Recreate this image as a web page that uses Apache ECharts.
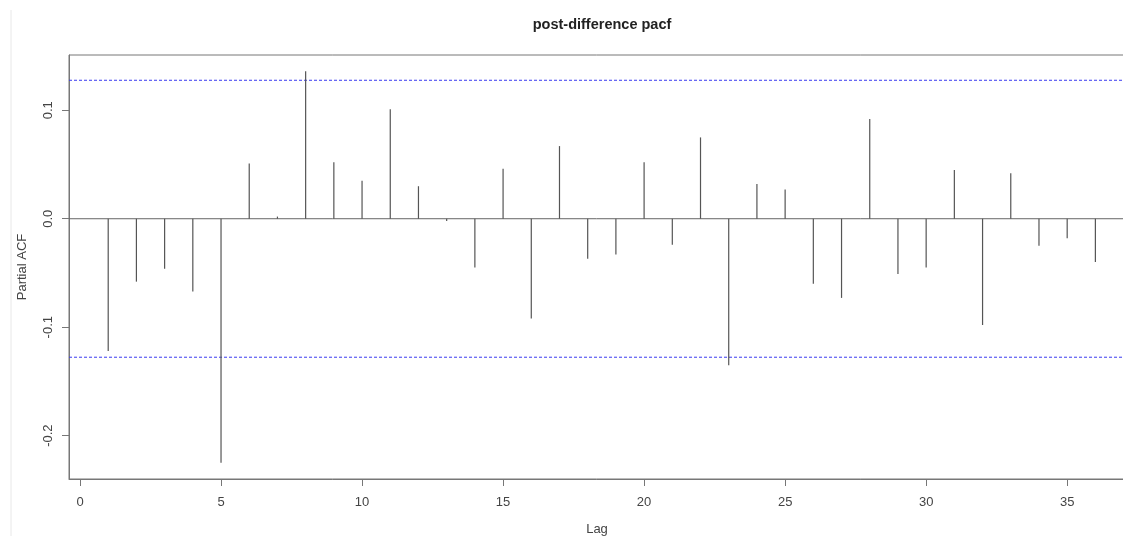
<!DOCTYPE html>
<html>
<head>
<meta charset="utf-8">
<script src="https://cdn.jsdelivr.net/npm/echarts@6/dist/echarts.min.js"></script>
<style>
    html, body { margin: 0; padding: 0; background: #fff; }
    #chart { width: 1123px; height: 536px; }
</style>
</head>
<body>
<div id="chart"></div>
<script>
    // lags 1..36 and partial autocorrelation values
    var lags = [1, 2, 3, 4, 5, 6, 7, 8, 9, 10, 11, 12, 13, 14, 15, 16, 17, 18,
                19, 20, 21, 22, 23, 24, 25, 26, 27, 28, 29, 30, 31, 32, 33, 34, 35, 36];
    var pacf = [-0.122, -0.058, -0.046, -0.067, -0.225, 0.051, 0.002, 0.136, 0.052, 0.035,
                0.101, 0.030, -0.002, -0.045, 0.046, -0.092, 0.067, -0.037, -0.033, 0.052,
                -0.024, 0.075, -0.135, 0.032, 0.027, -0.060, -0.073, 0.092, -0.051, -0.045,
                0.045, -0.098, 0.042, -0.025, -0.018, -0.040];
    var xTicks = [0, 5, 10, 15, 20, 25, 30, 35];
    var yTicks = [-0.2, -0.1, 0, 0.1];
    var ciBound = 0.1277;

    var xMin = -0.39, xMax = 37.05;

    var chart = echarts.init(document.getElementById('chart'));

    var points = [];
    for (var i = 0; i < lags.length; i++) {
        points.push([lags[i], pacf[i]]);
    }

    // horizontal line across the whole x range
    function hLine (value, color, type) {
        return {
            type: 'line',
            data: [[xMin, value], [xMax, value]],
            symbol: 'none',
            silent: true,
            lineStyle: { color: color, type: type, width: 1 },
            emphasis: { disabled: true },
            z: 1
        };
    }

    var option = {
        animation: false,
        backgroundColor: '#fff',
        textStyle: { fontFamily: 'Liberation Sans, Arial, sans-serif' },
        title: {
            text: 'post-difference pacf',
            left: 597,
            top: 12,
            textAlign: 'center',
            textStyle: { fontSize: 14.5, fontWeight: 'bold', color: '#222' }
        },
        grid: {
            left: 69,
            right: -2,
            top: 55,
            bottom: 57,
            outerBoundsMode: 'none',
            show: true,
            borderColor: '#777',
            borderWidth: 1
        },
        xAxis: {
            type: 'value',
            min: xMin,
            max: xMax,
            name: 'Lag',
            nameLocation: 'middle',
            nameGap: 44,
            nameTextStyle: { fontSize: 13, color: '#444', align: 'center' },
            axisLine: { show: true, onZero: false, lineStyle: { color: '#777' } },
            axisTick: { show: true, length: 7, customValues: xTicks, lineStyle: { color: '#777' } },
            axisLabel: { customValues: xTicks, fontSize: 13, color: '#444', margin: 17 },
            splitLine: { show: false }
        },
        yAxis: {
            type: 'value',
            min: -0.24,
            max: 0.151,
            name: 'Partial ACF',
            nameLocation: 'middle',
            nameGap: 40,
            nameRotate: 90,
            nameTextStyle: { fontSize: 13, color: '#444' },
            axisLine: { show: true, onZero: false, lineStyle: { color: '#777' } },
            axisTick: { show: true, length: 7, customValues: yTicks, lineStyle: { color: '#777' } },
            axisLabel: {
                customValues: yTicks,
                rotate: 90,
                fontSize: 13,
                color: '#444',
                margin: 14,
                formatter: function (v) { return v.toFixed(1); }
            },
            splitLine: { show: false }
        },
        graphic: [{
            type: 'line',
            shape: { x1: 11, y1: 10, x2: 11, y2: 536 },
            style: { stroke: '#e8e8e8', lineWidth: 1 }
        }],
        series: [
            {
                type: 'custom',
                renderItem: function (params, api) {
                    var base = api.coord([api.value(0), 0]);
                    var tip = api.coord([api.value(0), api.value(1)]);
                    return {
                        type: 'line',
                        shape: { x1: base[0], y1: base[1], x2: tip[0], y2: tip[1] },
                        style: { stroke: '#555', lineWidth: 1.2 }
                    };
                },
                data: points,
                z: 3
            },
            hLine(0, '#666', 'solid'),
            hLine(ciBound, '#3b3bf0', [3, 2]),
            hLine(-ciBound, '#3b3bf0', [3, 2])
        ]
    };

    chart.setOption(option);
</script>
</body>
</html>
